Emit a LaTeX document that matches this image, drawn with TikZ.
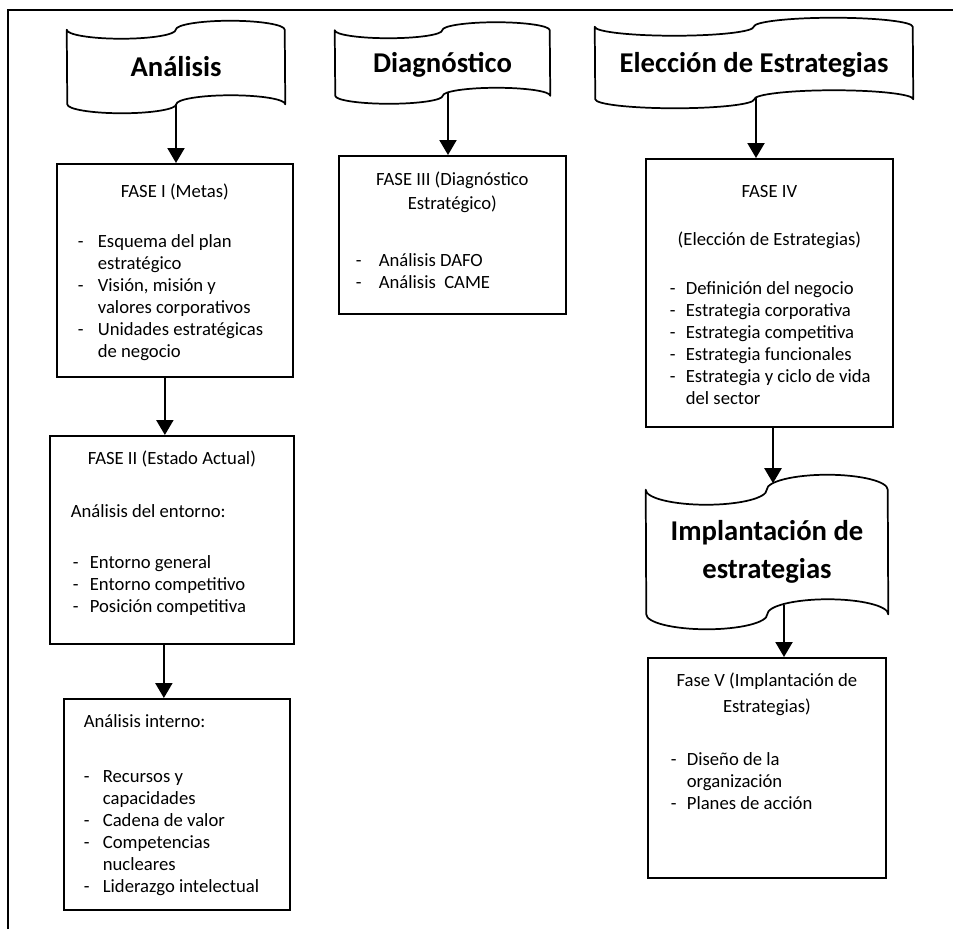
\documentclass[tikz,border=0pt]{standalone}
\usepackage{fontspec}
\setmainfont{Carlito}
\usetikzlibrary{arrows.meta,calc}

% one drawing unit = one pixel of the layout grid
\newlength\px
\setlength\px{0.75pt}

% fixed-size text block of a phase box: width, height (px), lines
\newcommand\phasetext[3]{%
  \begin{minipage}[t][#2\px][t]{#1\px}%
  \fontsize{14pt}{16.5pt}\selectfont
  \setlength\parindent{0pt}\setlength\parskip{0pt}%
  \null\par #3%
  \end{minipage}}
% centred line: extra gap before it (px), text
\newcommand\headln[2]{\vskip#1\px\noindent\makebox[\linewidth]{#2}\par}
% plain line: gap, left offset (px), text
\newcommand\plainln[3]{\vskip#1\px\noindent\hspace*{#2\px}#3\par}
% list line: gap, dash offset, text offset (px), text
\newcommand\dashln[4]{\vskip#1\px\noindent\hspace*{#2\px}%
  \makebox[\dimexpr#3\px-#2\px\relax][l]{-}#4\par}

% wavy "punched tape" outline round a node: name, x radius, wave height
\newcommand\tapeoutline[3]{%
  \draw[tapeline] (#1.north west)
    arc[start angle=180,end angle=360,x radius=#2,y radius=#3]
    arc[start angle=180,end angle=0,x radius=#2,y radius=#3]
    -- (#1.south east)
    arc[start angle=0,end angle=180,x radius=#2,y radius=#3]
    arc[start angle=0,end angle=-180,x radius=#2,y radius=#3]
    -- cycle;}

\tikzset{
  frameline/.style={line width=1.5pt},
  tapeline/.style={line width=1.3pt, line join=round},
  tape/.style={inner sep=0pt, font=\fontsize{21.5pt}{28.7pt}\selectfont\bfseries,
    text height=14.5pt, text depth=0pt},
  phase/.style={draw, line width=1.3pt, inner sep=0pt, anchor=north west},
  arr/.style={line width=1.6pt, -{Triangle[width=12.75pt,length=11.25pt]}},
}

\begin{document}
\begin{tikzpicture}[x=0.75pt,y=0.75pt]
\useasboundingbox (0,0) rectangle (953,-929);

% page frame (open to the right and bottom)
\draw[frameline] (8,-929) -- (8,-10) -- (953,-10);

% stage banners
\node[tape, minimum width=163.5pt, minimum height=55.5pt] (t1) at (176,-67) {Análisis};
\node[tape, minimum width=161.25pt, minimum height=48.75pt] (t2) at (442.5,-63) {Diagnóstico};
\node[tape, minimum width=238.5pt, minimum height=54pt] (t3) at (754,-63) {Elección de Estrategias};
\node[tape, minimum width=181.5pt, minimum height=93pt, text height=, text depth=,
  align=center] (t4) at (767,-552) {Implantación de\\estrategias};
\tapeoutline{t1}{40.875pt}{6.75pt}
\tapeoutline{t2}{40.3125pt}{6pt}
\tapeoutline{t3}{59.625pt}{6.75pt}
\tapeoutline{t4}{45.375pt}{11.25pt}

% phase boxes
\node[phase] (fase1) at (56,-163) {\phasetext{236}{213}{%
  \headln{12}{FASE I (Metas)}
  \dashln{28}{21}{41}{Esquema del plan}
  \plainln{0}{41}{estratégico}
  \dashln{0}{21}{41}{Visión, misión y}
  \plainln{0}{41}{valores corporativos}
  \dashln{0}{21}{41}{Unidades estratégicas}
  \plainln{0}{41}{de negocio}}};

\node[phase] (fase2) at (49,-435) {\phasetext{244}{208}{%
  \headln{7}{FASE II (Estado Actual)}
  \plainln{31}{21}{Análisis del entorno:}
  \dashln{29}{23}{40}{Entorno general}
  \dashln{0}{23}{40}{Entorno competitivo}
  \dashln{0}{23}{40}{Posición competitiva}}};

\node[phase] (interno) at (63,-698) {\phasetext{226}{211}{%
  \plainln{7}{20}{Análisis interno:}
  \dashln{33}{20}{39}{Recursos y}
  \plainln{0}{39}{capacidades}
  \dashln{0}{20}{39}{Cadena de valor}
  \dashln{0}{20}{39}{Competencias}
  \plainln{0}{39}{nucleares}
  \dashln{0}{20}{39}{Liderazgo intelectual}}};

\node[phase] (fase3) at (338,-155) {\phasetext{227}{158}{%
  \headln{8}{FASE III (Diagnóstico}
  \headln{2}{Estratégico)}
  \dashln{35}{17}{40}{Análisis DAFO}
  \dashln{0}{17}{40}{Análisis~ CAME}}};

\node[phase] (fase4) at (645,-158) {\phasetext{247}{268}{%
  \headln{17}{FASE IV}
  \headln{26}{(Elección de Estrategias)}
  \dashln{27}{24}{40}{Definición del negocio}
  \dashln{0}{24}{40}{Estrategia corporativa}
  \dashln{0}{24}{40}{Estrategia competitiva}
  \dashln{0}{24}{40}{Estrategia funcionales}
  \dashln{0}{24}{40}{Estrategia y ciclo de vida}
  \plainln{0}{40}{del sector}}};

\node[phase] (fase5) at (647,-657) {\phasetext{238}{220}{%
  \headln{7}{Fase V (Implantación de}
  \headln{4}{Estrategias)}
  \dashln{31}{23}{39}{Diseño de la}
  \plainln{0}{39}{organización}
  \dashln{0}{23}{39}{Planes de acción}}};

% connector end points
\coordinate (a2) at ($(fase1.south)+(-10,0)$);
\coordinate (a3) at ($(fase2.south)+(-8,0)$);
\coordinate (a4) at ($(t2.south)+(5.5,4)$);
\coordinate (a5) at ($(t3.south)+(2,2)$);
\coordinate (a6) at ($(t4.north)+(6,6.5)$);
\coordinate (a7) at ($(t4.south)+(17,9.7)$);

% connectors
\draw[arr] (t1.south) -- (t1.south |- fase1.north);
\draw[arr] (a2) -- (a2 |- fase2.north);
\draw[arr] (a3) -- (a3 |- interno.north);
\draw[arr] (a4) -- (a4 |- fase3.north);
\draw[arr] (a5) -- (a5 |- fase4.north);
\draw[arr] (a6 |- fase4.south) -- (a6);
\draw[arr] (a7) -- (a7 |- fase5.north);
\end{tikzpicture}
\end{document}
